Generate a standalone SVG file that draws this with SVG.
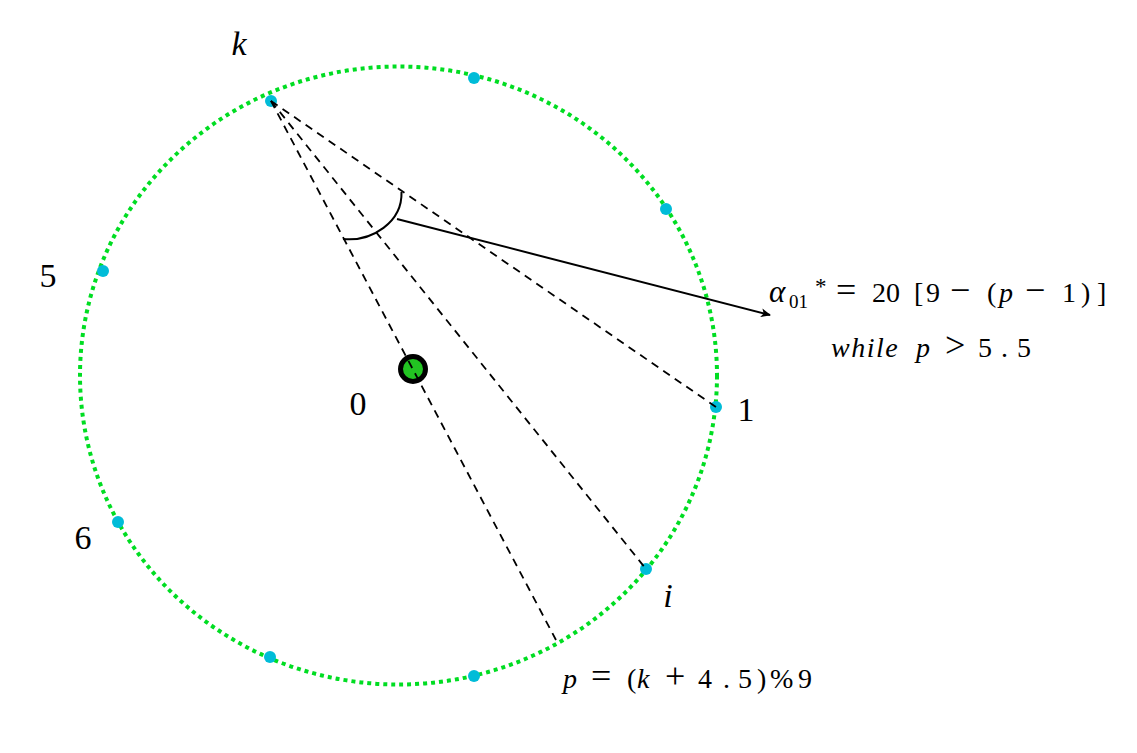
<svg xmlns="http://www.w3.org/2000/svg" width="1137" height="753" viewBox="0 0 1137 753">
<style>
.lbl{font-size:34px;fill:#000;text-anchor:middle}
.it{font-style:italic}
.math{font-size:28px;fill:#000}
.op{font-size:36px}
.dash{stroke:#000;stroke-width:1.8;stroke-dasharray:8 6;fill:none}
.dot{fill:#00bcd8}
</style>
<defs>
<marker id="ah" viewBox="0 0 10 10" refX="9" refY="5" markerWidth="10" markerHeight="10" markerUnits="userSpaceOnUse" orient="auto">
<path d="M0,0.5 L10,5 L0,9.5 L2.5,5 z" fill="#000"/>
</marker>
</defs>
<rect width="1137" height="753" fill="#fff"/>
<g id="ring">
<ellipse cx="398.5" cy="375.5" rx="318.5" ry="309" fill="none" stroke="#00dd22" stroke-width="4" stroke-dasharray="4 4"/>
</g>
<g id="nodes">
<g id="n-k"><circle class="dot" cx="271" cy="101" r="6"/></g>
<g id="n-a"><circle class="dot" cx="474" cy="78" r="6"/></g>
<g id="n-b"><circle class="dot" cx="666" cy="209" r="6"/></g>
<g id="n-5"><circle class="dot" cx="103" cy="271" r="6"/></g>
<g id="n-1"><circle class="dot" cx="716" cy="407" r="6"/></g>
<g id="n-6"><circle class="dot" cx="118" cy="522" r="6"/></g>
<g id="n-i"><circle class="dot" cx="646" cy="569" r="6"/></g>
<g id="n-c"><circle class="dot" cx="270" cy="657" r="6"/></g>
<g id="n-d"><circle class="dot" cx="474" cy="676" r="6"/></g>
<g id="n-0"><circle cx="413" cy="369" r="12.5" fill="#22c422" stroke="#000" stroke-width="5"/></g>
</g>
<g id="connectors">
<line class="dash" x1="271" y1="101" x2="556" y2="640"/>
<line class="dash" x1="271" y1="101" x2="646" y2="569"/>
<line class="dash" x1="271" y1="101" x2="716" y2="407"/>
<path d="M401.5,192 C402.5,222 372,242 343,239" fill="none" stroke="#000" stroke-width="2"/>
<line x1="397" y1="219" x2="770" y2="315" stroke="#000" stroke-width="2" marker-end="url(#ah)"/>
</g>
<g id="labels" font-family="Liberation Serif, DejaVu Serif, serif">
<text class="lbl it" x="239" y="55">k</text>
<text class="lbl" x="48" y="287">5</text>
<text class="lbl" x="358" y="415">0</text>
<text class="lbl" x="746" y="421">1</text>
<text class="lbl" x="83" y="549">6</text>
<text class="lbl it" x="668" y="607">i</text>
</g>
<g id="formulas" font-family="Liberation Serif, DejaVu Serif, serif">
<text class="math" y="302"><tspan x="769" font-style="italic" font-size="31">α</tspan><tspan x="789" y="308" font-size="19">01</tspan><tspan x="815" y="294" font-size="23">*</tspan><tspan class="op" x="836" y="302">=</tspan><tspan x="872">20</tspan><tspan x="914">[</tspan><tspan x="926">9</tspan><tspan class="op" x="950">−</tspan><tspan x="987">(</tspan><tspan x="999" font-style="italic">p</tspan><tspan class="op" x="1025">−</tspan><tspan x="1062">1</tspan><tspan x="1081">)</tspan><tspan x="1097">]</tspan></text>
<text class="math" y="357"><tspan x="831" font-style="italic" letter-spacing="1.5">while</tspan><tspan x="916" font-style="italic">p</tspan><tspan class="op" x="945">&gt;</tspan><tspan x="978">5</tspan><tspan x="1001">.</tspan><tspan x="1017">5</tspan></text>
<text class="math" y="688"><tspan x="563" font-style="italic">p</tspan><tspan class="op" x="591">=</tspan><tspan x="627">(</tspan><tspan x="637" font-style="italic">k</tspan><tspan class="op" x="665">+</tspan><tspan x="698">4</tspan><tspan x="723">.</tspan><tspan x="738">5</tspan><tspan x="757">)</tspan><tspan x="770">%</tspan><tspan x="798">9</tspan></text>
</g>
</svg>
